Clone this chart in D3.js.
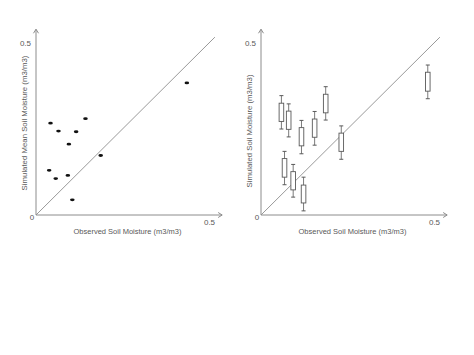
<!DOCTYPE html>
<html><head><meta charset="utf-8">
<script src="https://cdn.jsdelivr.net/npm/d3@7"></script>
<style>body{margin:0;background:#fff}svg{display:block}text{font-family:"Liberation Sans",Arial,sans-serif;fill:#595959}</style>
</head><body>
<script>
// Left panel: mean simulated vs observed
const obsMean = [0.042,0.065,0.116,0.143,0.095,0.187,0.038,0.057,0.092,0.105,0.436];
const simMean = [0.267,0.244,0.242,0.280,0.206,0.173,0.130,0.106,0.115,0.044,0.384];
// Right panel: box ranges
const obsBox = [0.059,0.080,0.117,0.155,0.187,0.232,0.068,0.093,0.123,0.482];
const whiskHi = [0.347,0.323,0.275,0.301,0.373,0.259,0.185,0.147,0.110,0.436];
const boxHi   = [0.325,0.302,0.254,0.279,0.351,0.238,0.164,0.126,0.087,0.415];
const boxLo   = [0.272,0.249,0.201,0.226,0.297,0.185,0.110,0.073,0.035,0.360];
const whiskLo = [0.250,0.227,0.178,0.203,0.276,0.162,0.088,0.052,0.012,0.338];
const tickLabels = ["0","0.5"];
const xTitle = "Observed Soil Moisture (m3/m3)";
const yTitles = ["Simulated Mean Soil Moisture (m3/m3)","Simulated Soil Moisture (m3/m3)"];

const W=474,H=355;
const svg=d3.select("body").append("svg").attr("width",W).attr("height",H);
const axisCol="#8c8c8c";

function panel(x0,yTitle,titleX,titleY){
  const x=d3.scaleLinear().domain([0,0.5]).range([x0,x0+173]);
  const y=d3.scaleLinear().domain([0,0.5]).range([215,43]);
  const g=svg.append("g");
  g.append("line").attr("x1",x(0)).attr("y1",y(0)).attr("x2",x(0.517)).attr("y2",y(0.517))
    .attr("stroke","#7f7f7f").attr("stroke-width",0.8);
  const ax=x(0.538), ay=y(0.54);
  g.append("path").attr("d",`M${x(0)},${y(0)}H${ax}M${ax-4},${y(0)-2.5}L${ax},${y(0)}L${ax-4},${y(0)+2.5}`)
    .attr("fill","none").attr("stroke",axisCol).attr("stroke-width",1);
  g.append("path").attr("d",`M${x(0)},${y(0)}V${ay}M${x(0)-2.5},${ay+4}L${x(0)},${ay}L${x(0)+2.5},${ay+4}`)
    .attr("fill","none").attr("stroke",axisCol).attr("stroke-width",1);
  const xa=g.append("g").attr("transform",`translate(0,${y(0)})`)
    .call(d3.axisBottom(x).tickValues([0.5]).tickSize(0).tickPadding(4).tickFormat(()=>tickLabels[1]));
  const ya=g.append("g").attr("transform",`translate(${x(0)},0)`)
    .call(d3.axisLeft(y).tickValues([0.5]).tickSize(0).tickPadding(5).tickFormat(()=>tickLabels[1]));
  [xa,ya].forEach(a=>{a.select(".domain").remove();a.selectAll("text").attr("font-size",8).attr("fill","#595959").attr("font-family","Liberation Sans, Arial, sans-serif");});
  g.append("text").attr("x",x(0)-4).attr("y",y(0)+5).attr("text-anchor","middle").attr("font-size",8).text(tickLabels[0]);
  g.append("text").attr("x",(x(0)+x(0.5))/2+5).attr("y",234).attr("text-anchor","middle").attr("font-size",7.5).text(xTitle);
  g.append("text").attr("transform",`translate(${titleX},${titleY}) rotate(-90)`).attr("text-anchor","middle").attr("font-size",7.8).text(yTitle);
  return {g,x,y};
}

const L=panel(36,yTitles[0],27,123);
L.g.selectAll("ellipse.pt").data(obsMean).enter().append("ellipse")
  .attr("cx",(d)=>L.x(d)).attr("cy",(d,i)=>L.y(simMean[i])).attr("rx",2.3).attr("ry",1.4).attr("fill","#111");

const R=panel(261,yTitles[1],252,131);
const bx=R.g.selectAll("g.bx").data(obsBox).enter().append("g");
bx.append("line").attr("x1",d=>R.x(d)).attr("x2",d=>R.x(d)).attr("y1",(d,i)=>R.y(whiskHi[i])).attr("y2",(d,i)=>R.y(whiskLo[i]))
  .attr("stroke","#595959").attr("stroke-width",0.8);
bx.append("line").attr("x1",d=>R.x(d)-2).attr("x2",d=>R.x(d)+2).attr("y1",(d,i)=>R.y(whiskHi[i])).attr("y2",(d,i)=>R.y(whiskHi[i]))
  .attr("stroke","#595959").attr("stroke-width",1);
bx.append("line").attr("x1",d=>R.x(d)-2).attr("x2",d=>R.x(d)+2).attr("y1",(d,i)=>R.y(whiskLo[i])).attr("y2",(d,i)=>R.y(whiskLo[i]))
  .attr("stroke","#595959").attr("stroke-width",1);
bx.append("rect").attr("x",d=>R.x(d)-2.3).attr("width",4.6).attr("y",(d,i)=>R.y(boxHi[i])).attr("height",(d,i)=>R.y(boxLo[i])-R.y(boxHi[i]))
  .attr("fill","#fff").attr("stroke","#595959").attr("stroke-width",0.9);
</script>
</body></html>
